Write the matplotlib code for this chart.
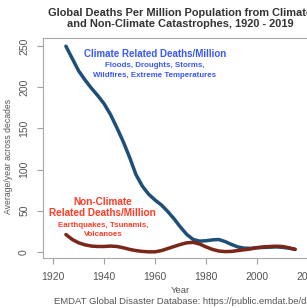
import matplotlib
matplotlib.use("Agg")
import matplotlib.pyplot as plt

plt.rcParams['font.family'] = ['Liberation Sans', 'DejaVu Sans']

# values (smoothed averages, deaths per million per year)
years = [1925, 1927.5, 1930, 1932.5, 1935, 1937.5, 1940, 1942.5, 1945, 1947.5,
         1950, 1952.5, 1955, 1957.5, 1960, 1962.5, 1965, 1967.5, 1970, 1972.5,
         1975, 1977.5, 1980, 1982.5, 1985, 1987.5, 1990, 1992.5, 1995, 1997.5,
         2000, 2002.5, 2005, 2007.5, 2010, 2012.5, 2015]
climate = [250, 235, 220, 209, 199, 190, 180, 167, 151, 134,
           115, 94, 80, 70, 63, 57, 49, 40, 30, 21,
           15, 13, 13.5, 14.5, 15, 12.5, 9, 6, 4.5, 4.2,
           5, 5.3, 5.6, 6, 5.5, 4.5, 3]
non_climate = [21, 15, 11, 8.5, 7, 6.5, 6.5, 7, 6.5, 5,
               3, 1.5, 0.5, 0, 0, 1.5, 4, 6.5, 9, 11,
               11.5, 9.5, 6, 3, 1, 0.3, 0.5, 1.5, 2.5, 3.5,
               5, 6, 6.5, 6.8, 6.5, 5, 3]
xticks = [1920, 1940, 1960, 1980, 2000, 2020]
yticks = [0, 50, 100, 150, 200, 250]

W, H = 307, 308
fig = plt.figure(figsize=(W / 100, H / 100), dpi=100)
ax = fig.add_axes([43 / W, (H - 258) / H, (318 - 43) / W, (258 - 38) / H])

ax.plot(years, climate, color='#1d4f78', lw=2.5, solid_capstyle='round')
ax.plot(years, non_climate, color='#7a2618', lw=2.5, solid_capstyle='round')

ax.set_xlim(1916, 2024)
ax.set_ylim(-7.5, 260)
ax.set_xticks(xticks)
ax.set_yticks(yticks)
ax.set_yticklabels([str(v) for v in yticks], rotation=90, va='center')

for s in ax.spines.values():
    s.set_color('#a8a8a8')
    s.set_linewidth(0.8)
ax.tick_params(colors='#a0a0a0', labelcolor='#555555', labelsize=7.5,
               length=4, width=0.8, direction='out', pad=6)

ax.set_xlabel('Year', fontsize=6.8, color='#555555', labelpad=3)
ax.set_ylabel('Average/year across decades', fontsize=6.2, color='#555555')
ax.yaxis.set_label_coords(-30 / 275, 0.46)

# annotations
blue = '#3a58f8'
red = '#ff3b28'
ax.text(1960, 240, 'Climate Related Deaths/Million', color=blue,
        fontsize=7, fontweight='bold', ha='center', va='center')
ax.text(1960, 227, 'Floods, Droughts, Storms,', color=blue,
        fontsize=5.7, fontweight='bold', ha='center', va='center')
ax.text(1960, 215, 'Wildfires, Extreme Temperatures', color=blue,
        fontsize=5.7, fontweight='bold', ha='center', va='center')

ax.text(1939.5, 61, 'Non-Climate', color=red,
        fontsize=7.2, fontweight='bold', ha='center', va='center')
ax.text(1939.5, 47, 'Related Deaths/Million', color=red,
        fontsize=7.2, fontweight='bold', ha='center', va='center')
ax.text(1939.5, 31.5, 'Earthquakes, Tsunamis,', color=red,
        fontsize=5.7, fontweight='bold', ha='center', va='center')
ax.text(1939.5, 20.6, 'Volcanoes', color=red,
        fontsize=5.7, fontweight='bold', ha='center', va='center')

fig.text(180 / W, 1 - 18.5 / H,
         'Global Deaths Per Million Population from Climate\n'
         'and Non-Climate Catastrophes, 1920 - 2019',
         ha='center', va='center', fontsize=7.9, fontweight='bold',
         color='#333333', linespacing=1.2)

fig.text(54 / W, 1 - 301 / H,
         'EMDAT Global Disaster Database: https://public.emdat.be/data',
         ha='left', va='center', fontsize=6.8, color='#555555')

fig.savefig('out.png', dpi=100)
